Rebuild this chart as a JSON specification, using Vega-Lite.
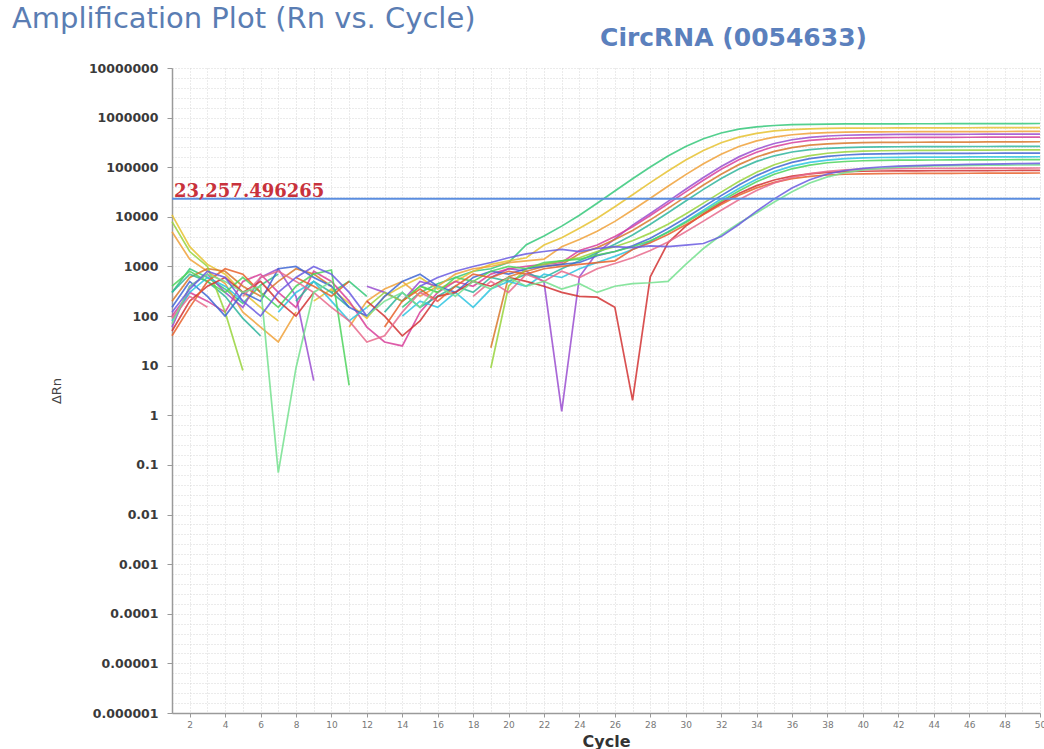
{
"$schema": "https://vega.github.io/schema/vega-lite/v6.json",
"width": 868, "height": 645,
"autosize": {"type": "none"},
"padding": {"left": 172, "top": 68, "right": 4, "bottom": 36},
"background": "white",
"title": {"text": "Amplification Plot (Rn vs. Cycle)", "anchor": "start", "frame": "group", "dx": -160, "dy": 13, "offset": 4, "font": "DejaVu Sans", "fontSize": 29, "fontWeight": "normal", "color": "#5a7db3"},
"config": {"view": {"stroke": null}},
"resolve": {"axis": {"x": "independent"}},
"layer": [
{
"data": {"values": [
{"s":1,"c":1,"v":300},{"s":1,"c":2,"v":900},{"s":1,"c":3,"v":600},{"s":1,"c":4,"v":350},{"s":1,"c":5,"v":180},{"s":1,"c":6,"v":420},{"s":1,"c":7,"v":700},{"s":1,"c":8,"v":null},{"s":1,"c":10,"v":300},{"s":1,"c":11,"v":500},{"s":1,"c":12,"v":250},{"s":1,"c":13,"v":null},{"s":1,"c":14,"v":150},{"s":1,"c":15,"v":300},{"s":1,"c":16,"v":450},{"s":1,"c":17,"v":600},{"s":1,"c":18,"v":800},{"s":1,"c":19,"v":900},{"s":1,"c":20,"v":1200},{"s":1,"c":21,"v":2750},{"s":1,"c":22,"v":4100},{"s":1,"c":23,"v":6500},{"s":1,"c":24,"v":10800},{"s":1,"c":25,"v":18750},{"s":1,"c":26,"v":33200},{"s":1,"c":27,"v":58500},{"s":1,"c":28,"v":101000},{"s":1,"c":29,"v":168000},{"s":1,"c":30,"v":263000},{"s":1,"c":31,"v":376000},{"s":1,"c":32,"v":489000},{"s":1,"c":33,"v":584000},{"s":1,"c":34,"v":651000},{"s":1,"c":35,"v":694000},{"s":1,"c":36,"v":719000},{"s":1,"c":37,"v":733000},{"s":1,"c":38,"v":741000},{"s":1,"c":39,"v":745000},{"s":1,"c":40,"v":747000},{"s":1,"c":41,"v":749000},{"s":1,"c":42,"v":750000},{"s":1,"c":43,"v":752000},{"s":1,"c":44,"v":753000},{"s":1,"c":45,"v":755000},{"s":1,"c":46,"v":756000},{"s":1,"c":47,"v":757000},{"s":1,"c":48,"v":758000},{"s":1,"c":49,"v":760000},{"s":1,"c":50,"v":761000},
{"s":2,"c":1,"v":11000},{"s":2,"c":2,"v":2500},{"s":2,"c":3,"v":1100},{"s":2,"c":4,"v":700},{"s":2,"c":5,"v":300},{"s":2,"c":6,"v":150},{"s":2,"c":7,"v":80},{"s":2,"c":8,"v":null},{"s":2,"c":9,"v":200},{"s":2,"c":10,"v":350},{"s":2,"c":11,"v":180},{"s":2,"c":12,"v":90},{"s":2,"c":13,"v":250},{"s":2,"c":14,"v":400},{"s":2,"c":15,"v":600},{"s":2,"c":16,"v":350},{"s":2,"c":17,"v":500},{"s":2,"c":18,"v":800},{"s":2,"c":19,"v":1100},{"s":2,"c":20,"v":1300},{"s":2,"c":21,"v":1500},{"s":2,"c":22,"v":2700},{"s":2,"c":23,"v":3800},{"s":2,"c":24,"v":5900},{"s":2,"c":25,"v":9400},{"s":2,"c":26,"v":16000},{"s":2,"c":27,"v":27900},{"s":2,"c":28,"v":48900},{"s":2,"c":29,"v":84000},{"s":2,"c":30,"v":140000},{"s":2,"c":31,"v":218000},{"s":2,"c":32,"v":312000},{"s":2,"c":33,"v":405000},{"s":2,"c":34,"v":483000},{"s":2,"c":35,"v":539000},{"s":2,"c":36,"v":574000},{"s":2,"c":37,"v":595000},{"s":2,"c":38,"v":607000},{"s":2,"c":39,"v":613000},{"s":2,"c":40,"v":616000},{"s":2,"c":41,"v":618000},{"s":2,"c":42,"v":620000},{"s":2,"c":43,"v":621000},{"s":2,"c":44,"v":622000},{"s":2,"c":45,"v":624000},{"s":2,"c":46,"v":625000},{"s":2,"c":47,"v":626000},{"s":2,"c":48,"v":627000},{"s":2,"c":49,"v":628000},{"s":2,"c":50,"v":630000},
{"s":3,"c":1,"v":5000},{"s":3,"c":2,"v":1400},{"s":3,"c":3,"v":800},{"s":3,"c":4,"v":450},{"s":3,"c":5,"v":120},{"s":3,"c":6,"v":60},{"s":3,"c":7,"v":30},{"s":3,"c":8,"v":120},{"s":3,"c":9,"v":null},{"s":3,"c":11,"v":60},{"s":3,"c":12,"v":200},{"s":3,"c":13,"v":350},{"s":3,"c":14,"v":500},{"s":3,"c":15,"v":250},{"s":3,"c":16,"v":400},{"s":3,"c":17,"v":700},{"s":3,"c":18,"v":900},{"s":3,"c":19,"v":1000},{"s":3,"c":20,"v":1200},{"s":3,"c":21,"v":1300},{"s":3,"c":22,"v":1400},{"s":3,"c":23,"v":2500},{"s":3,"c":24,"v":3500},{"s":3,"c":25,"v":5100},{"s":3,"c":26,"v":8100},{"s":3,"c":27,"v":13700},{"s":3,"c":28,"v":23700},{"s":3,"c":29,"v":41300},{"s":3,"c":30,"v":71000},{"s":3,"c":31,"v":118000},{"s":3,"c":32,"v":183000},{"s":3,"c":33,"v":262000},{"s":3,"c":34,"v":340000},{"s":3,"c":35,"v":405000},{"s":3,"c":36,"v":452000},{"s":3,"c":37,"v":481000},{"s":3,"c":38,"v":499000},{"s":3,"c":39,"v":509000},{"s":3,"c":40,"v":514000},{"s":3,"c":41,"v":517000},{"s":3,"c":42,"v":519000},{"s":3,"c":43,"v":520000},{"s":3,"c":44,"v":521000},{"s":3,"c":45,"v":522000},{"s":3,"c":46,"v":523000},{"s":3,"c":47,"v":524000},{"s":3,"c":48,"v":525000},{"s":3,"c":49,"v":526000},{"s":3,"c":50,"v":528000},
{"s":4,"c":1,"v":60},{"s":4,"c":2,"v":400},{"s":4,"c":3,"v":700},{"s":4,"c":4,"v":300},{"s":4,"c":5,"v":150},{"s":4,"c":6,"v":600},{"s":4,"c":7,"v":900},{"s":4,"c":8,"v":250},{"s":4,"c":9,"v":5},{"s":4,"c":10,"v":null},{"s":4,"c":12,"v":400},{"s":4,"c":13,"v":300},{"s":4,"c":14,"v":200},{"s":4,"c":15,"v":500},{"s":4,"c":16,"v":400},{"s":4,"c":17,"v":null},{"s":4,"c":19,"v":600},{"s":4,"c":20,"v":900},{"s":4,"c":21,"v":800},{"s":4,"c":22,"v":490},{"s":4,"c":23,"v":1.2},{"s":4,"c":24,"v":620},{"s":4,"c":25,"v":1900},{"s":4,"c":26,"v":3600},{"s":4,"c":27,"v":6800},{"s":4,"c":28,"v":11700},{"s":4,"c":29,"v":20500},{"s":4,"c":30,"v":36000},{"s":4,"c":31,"v":62300},{"s":4,"c":32,"v":103700},{"s":4,"c":33,"v":161600},{"s":4,"c":34,"v":231000},{"s":4,"c":35,"v":300500},{"s":4,"c":36,"v":358400},{"s":4,"c":37,"v":399800},{"s":4,"c":38,"v":426000},{"s":4,"c":39,"v":441600},{"s":4,"c":40,"v":450400},{"s":4,"c":41,"v":455400},{"s":4,"c":42,"v":457700},{"s":4,"c":43,"v":459000},{"s":4,"c":44,"v":460000},{"s":4,"c":45,"v":461000},{"s":4,"c":46,"v":462000},{"s":4,"c":47,"v":463000},{"s":4,"c":48,"v":464000},{"s":4,"c":49,"v":465000},{"s":4,"c":50,"v":466000},
{"s":5,"c":1,"v":100},{"s":5,"c":2,"v":300},{"s":5,"c":3,"v":200},{"s":5,"c":4,"v":120},{"s":5,"c":5,"v":500},{"s":5,"c":6,"v":700},{"s":5,"c":7,"v":300},{"s":5,"c":8,"v":150},{"s":5,"c":9,"v":800},{"s":5,"c":10,"v":500},{"s":5,"c":11,"v":200},{"s":5,"c":12,"v":60},{"s":5,"c":13,"v":30},{"s":5,"c":14,"v":25},{"s":5,"c":15,"v":120},{"s":5,"c":16,"v":300},{"s":5,"c":17,"v":500},{"s":5,"c":18,"v":400},{"s":5,"c":19,"v":700},{"s":5,"c":20,"v":900},{"s":5,"c":21,"v":1000},{"s":5,"c":22,"v":1100},{"s":5,"c":23,"v":1200},{"s":5,"c":24,"v":2100},{"s":5,"c":25,"v":2700},{"s":5,"c":26,"v":4000},{"s":5,"c":27,"v":6300},{"s":5,"c":28,"v":10600},{"s":5,"c":29,"v":18300},{"s":5,"c":30,"v":31800},{"s":5,"c":31,"v":54600},{"s":5,"c":32,"v":90600},{"s":5,"c":33,"v":141000},{"s":5,"c":34,"v":201000},{"s":5,"c":35,"v":261000},{"s":5,"c":36,"v":311500},{"s":5,"c":37,"v":347500},{"s":5,"c":38,"v":370000},{"s":5,"c":39,"v":383600},{"s":5,"c":40,"v":391000},{"s":5,"c":41,"v":395500},{"s":5,"c":42,"v":397500},{"s":5,"c":43,"v":399000},{"s":5,"c":44,"v":400000},{"s":5,"c":45,"v":401000},{"s":5,"c":46,"v":402000},{"s":5,"c":47,"v":403000},{"s":5,"c":48,"v":404000},{"s":5,"c":49,"v":405000},{"s":5,"c":50,"v":406000},
{"s":6,"c":1,"v":200},{"s":6,"c":2,"v":600},{"s":6,"c":3,"v":900},{"s":6,"c":4,"v":800},{"s":6,"c":5,"v":400},{"s":6,"c":6,"v":250},{"s":6,"c":7,"v":500},{"s":6,"c":8,"v":900},{"s":6,"c":9,"v":700},{"s":6,"c":10,"v":400},{"s":6,"c":11,"v":null},{"s":6,"c":19,"v":23},{"s":6,"c":20,"v":620},{"s":6,"c":21,"v":800},{"s":6,"c":22,"v":1000},{"s":6,"c":23,"v":1100},{"s":6,"c":24,"v":1800},{"s":6,"c":25,"v":2400},{"s":6,"c":26,"v":3500},{"s":6,"c":27,"v":5300},{"s":6,"c":28,"v":8700},{"s":6,"c":29,"v":14800},{"s":6,"c":30,"v":25600},{"s":6,"c":31,"v":43800},{"s":6,"c":32,"v":72500},{"s":6,"c":33,"v":112800},{"s":6,"c":34,"v":161000},{"s":6,"c":35,"v":209000},{"s":6,"c":36,"v":249300},{"s":6,"c":37,"v":278000},{"s":6,"c":38,"v":296000},{"s":6,"c":39,"v":307000},{"s":6,"c":40,"v":313000},{"s":6,"c":41,"v":316500},{"s":6,"c":42,"v":318000},{"s":6,"c":43,"v":319000},{"s":6,"c":44,"v":320000},{"s":6,"c":45,"v":321000},{"s":6,"c":46,"v":322000},{"s":6,"c":47,"v":323000},{"s":6,"c":48,"v":324000},{"s":6,"c":49,"v":325000},{"s":6,"c":50,"v":326000},
{"s":7,"c":1,"v":300},{"s":7,"c":2,"v":700},{"s":7,"c":3,"v":500},{"s":7,"c":4,"v":250},{"s":7,"c":5,"v":90},{"s":7,"c":6,"v":40},{"s":7,"c":7,"v":null},{"s":7,"c":8,"v":200},{"s":7,"c":9,"v":500},{"s":7,"c":10,"v":300},{"s":7,"c":11,"v":150},{"s":7,"c":12,"v":null},{"s":7,"c":13,"v":120},{"s":7,"c":14,"v":300},{"s":7,"c":15,"v":150},{"s":7,"c":16,"v":250},{"s":7,"c":17,"v":400},{"s":7,"c":18,"v":300},{"s":7,"c":19,"v":600},{"s":7,"c":20,"v":500},{"s":7,"c":21,"v":700},{"s":7,"c":22,"v":600},{"s":7,"c":23,"v":900},{"s":7,"c":24,"v":1300},{"s":7,"c":25,"v":1900},{"s":7,"c":26,"v":2800},{"s":7,"c":27,"v":4300},{"s":7,"c":28,"v":7100},{"s":7,"c":29,"v":12100},{"s":7,"c":30,"v":20900},{"s":7,"c":31,"v":35800},{"s":7,"c":32,"v":59200},{"s":7,"c":33,"v":92000},{"s":7,"c":34,"v":131000},{"s":7,"c":35,"v":170000},{"s":7,"c":36,"v":203000},{"s":7,"c":37,"v":226000},{"s":7,"c":38,"v":241000},{"s":7,"c":39,"v":249500},{"s":7,"c":40,"v":254500},{"s":7,"c":41,"v":257000},{"s":7,"c":42,"v":258500},{"s":7,"c":43,"v":259500},{"s":7,"c":44,"v":260000},{"s":7,"c":45,"v":261000},{"s":7,"c":46,"v":261500},{"s":7,"c":47,"v":262000},{"s":7,"c":48,"v":263000},{"s":7,"c":49,"v":263500},{"s":7,"c":50,"v":264000},
{"s":8,"c":1,"v":8000},{"s":8,"c":2,"v":2000},{"s":8,"c":3,"v":1000},{"s":8,"c":4,"v":120},{"s":8,"c":5,"v":8},{"s":8,"c":6,"v":null},{"s":8,"c":12,"v":150},{"s":8,"c":13,"v":300},{"s":8,"c":14,"v":200},{"s":8,"c":15,"v":400},{"s":8,"c":16,"v":300},{"s":8,"c":17,"v":null},{"s":8,"c":19,"v":9},{"s":8,"c":20,"v":400},{"s":8,"c":21,"v":900},{"s":8,"c":22,"v":1100},{"s":8,"c":23,"v":1300},{"s":8,"c":24,"v":1500},{"s":8,"c":25,"v":2000},{"s":8,"c":26,"v":2500},{"s":8,"c":27,"v":3300},{"s":8,"c":28,"v":4700},{"s":8,"c":29,"v":7100},{"s":8,"c":30,"v":11400},{"s":8,"c":31,"v":18900},{"s":8,"c":32,"v":31500},{"s":8,"c":33,"v":51300},{"s":8,"c":34,"v":79000},{"s":8,"c":35,"v":112000},{"s":8,"c":36,"v":145000},{"s":8,"c":37,"v":172000},{"s":8,"c":38,"v":191500},{"s":8,"c":39,"v":204000},{"s":8,"c":40,"v":211000},{"s":8,"c":41,"v":215000},{"s":8,"c":42,"v":217500},{"s":8,"c":43,"v":218500},{"s":8,"c":44,"v":219500},{"s":8,"c":45,"v":220500},{"s":8,"c":46,"v":221000},{"s":8,"c":47,"v":222000},{"s":8,"c":48,"v":222500},{"s":8,"c":49,"v":223000},{"s":8,"c":50,"v":224000},
{"s":9,"c":1,"v":150},{"s":9,"c":2,"v":500},{"s":9,"c":3,"v":250},{"s":9,"c":4,"v":100},{"s":9,"c":5,"v":300},{"s":9,"c":6,"v":200},{"s":9,"c":7,"v":900},{"s":9,"c":8,"v":1000},{"s":9,"c":9,"v":600},{"s":9,"c":10,"v":400},{"s":9,"c":11,"v":150},{"s":9,"c":12,"v":100},{"s":9,"c":13,"v":250},{"s":9,"c":14,"v":500},{"s":9,"c":15,"v":700},{"s":9,"c":16,"v":400},{"s":9,"c":17,"v":300},{"s":9,"c":18,"v":600},{"s":9,"c":19,"v":800},{"s":9,"c":20,"v":700},{"s":9,"c":21,"v":900},{"s":9,"c":22,"v":1000},{"s":9,"c":23,"v":1100},{"s":9,"c":24,"v":1200},{"s":9,"c":25,"v":1650},{"s":9,"c":26,"v":2000},{"s":9,"c":27,"v":2600},{"s":9,"c":28,"v":3700},{"s":9,"c":29,"v":5800},{"s":9,"c":30,"v":9500},{"s":9,"c":31,"v":16000},{"s":9,"c":32,"v":26800},{"s":9,"c":33,"v":43900},{"s":9,"c":34,"v":67800},{"s":9,"c":35,"v":96500},{"s":9,"c":36,"v":125000},{"s":9,"c":37,"v":149000},{"s":9,"c":38,"v":166000},{"s":9,"c":39,"v":176500},{"s":9,"c":40,"v":183000},{"s":9,"c":41,"v":186500},{"s":9,"c":42,"v":188500},{"s":9,"c":43,"v":189500},{"s":9,"c":44,"v":190000},{"s":9,"c":45,"v":190500},{"s":9,"c":46,"v":191000},{"s":9,"c":47,"v":191500},{"s":9,"c":48,"v":192000},{"s":9,"c":49,"v":192500},{"s":9,"c":50,"v":193000},
{"s":10,"c":1,"v":80},{"s":10,"c":2,"v":300},{"s":10,"c":3,"v":600},{"s":10,"c":4,"v":400},{"s":10,"c":5,"v":200},{"s":10,"c":6,"v":null},{"s":10,"c":7,"v":120},{"s":10,"c":8,"v":300},{"s":10,"c":9,"v":500},{"s":10,"c":10,"v":200},{"s":10,"c":11,"v":80},{"s":10,"c":12,"v":150},{"s":10,"c":13,"v":null},{"s":10,"c":14,"v":100},{"s":10,"c":15,"v":200},{"s":10,"c":16,"v":150},{"s":10,"c":17,"v":300},{"s":10,"c":18,"v":150},{"s":10,"c":19,"v":350},{"s":10,"c":20,"v":500},{"s":10,"c":21,"v":400},{"s":10,"c":22,"v":700},{"s":10,"c":23,"v":600},{"s":10,"c":24,"v":900},{"s":10,"c":25,"v":1200},{"s":10,"c":26,"v":1600},{"s":10,"c":27,"v":2200},{"s":10,"c":28,"v":3200},{"s":10,"c":29,"v":5000},{"s":10,"c":30,"v":8100},{"s":10,"c":31,"v":13600},{"s":10,"c":32,"v":22800},{"s":10,"c":33,"v":37200},{"s":10,"c":34,"v":57400},{"s":10,"c":35,"v":81500},{"s":10,"c":36,"v":105500},{"s":10,"c":37,"v":125500},{"s":10,"c":38,"v":139500},{"s":10,"c":39,"v":148500},{"s":10,"c":40,"v":154000},{"s":10,"c":41,"v":157000},{"s":10,"c":42,"v":158500},{"s":10,"c":43,"v":159300},{"s":10,"c":44,"v":160000},{"s":10,"c":45,"v":160500},{"s":10,"c":46,"v":161000},{"s":10,"c":47,"v":161500},{"s":10,"c":48,"v":162000},{"s":10,"c":49,"v":162300},{"s":10,"c":50,"v":162500},
{"s":11,"c":1,"v":400},{"s":11,"c":2,"v":800},{"s":11,"c":3,"v":500},{"s":11,"c":4,"v":300},{"s":11,"c":5,"v":600},{"s":11,"c":6,"v":300},{"s":11,"c":7,"v":150},{"s":11,"c":8,"v":400},{"s":11,"c":9,"v":700},{"s":11,"c":10,"v":850},{"s":11,"c":11,"v":4},{"s":11,"c":12,"v":null},{"s":11,"c":14,"v":200},{"s":11,"c":15,"v":400},{"s":11,"c":16,"v":300},{"s":11,"c":17,"v":600},{"s":11,"c":18,"v":500},{"s":11,"c":19,"v":800},{"s":11,"c":20,"v":1000},{"s":11,"c":21,"v":900},{"s":11,"c":22,"v":1200},{"s":11,"c":23,"v":1300},{"s":11,"c":24,"v":1400},{"s":11,"c":25,"v":1700},{"s":11,"c":26,"v":2000},{"s":11,"c":27,"v":2500},{"s":11,"c":28,"v":3300},{"s":11,"c":29,"v":4900},{"s":11,"c":30,"v":7700},{"s":11,"c":31,"v":12500},{"s":11,"c":32,"v":20600},{"s":11,"c":33,"v":33200},{"s":11,"c":34,"v":50900},{"s":11,"c":35,"v":72000},{"s":11,"c":36,"v":93000},{"s":11,"c":37,"v":110500},{"s":11,"c":38,"v":123000},{"s":11,"c":39,"v":130500},{"s":11,"c":40,"v":135000},{"s":11,"c":41,"v":137500},{"s":11,"c":42,"v":139000},{"s":11,"c":43,"v":139700},{"s":11,"c":44,"v":140000},{"s":11,"c":45,"v":140500},{"s":11,"c":46,"v":141000},{"s":11,"c":47,"v":141300},{"s":11,"c":48,"v":141600},{"s":11,"c":49,"v":141800},{"s":11,"c":50,"v":142000},
{"s":12,"c":1,"v":50},{"s":12,"c":2,"v":200},{"s":12,"c":3,"v":400},{"s":12,"c":4,"v":600},{"s":12,"c":5,"v":300},{"s":12,"c":6,"v":500},{"s":12,"c":7,"v":200},{"s":12,"c":8,"v":100},{"s":12,"c":9,"v":300},{"s":12,"c":10,"v":null},{"s":12,"c":12,"v":200},{"s":12,"c":13,"v":100},{"s":12,"c":14,"v":40},{"s":12,"c":15,"v":80},{"s":12,"c":16,"v":250},{"s":12,"c":17,"v":300},{"s":12,"c":18,"v":500},{"s":12,"c":19,"v":400},{"s":12,"c":20,"v":600},{"s":12,"c":21,"v":500},{"s":12,"c":22,"v":400},{"s":12,"c":23,"v":300},{"s":12,"c":24,"v":250},{"s":12,"c":25,"v":240},{"s":12,"c":26,"v":150},{"s":12,"c":27,"v":2},{"s":12,"c":28,"v":620},{"s":12,"c":29,"v":3000},{"s":12,"c":30,"v":6500},{"s":12,"c":31,"v":11400},{"s":12,"c":32,"v":19000},{"s":12,"c":33,"v":29700},{"s":12,"c":34,"v":42500},{"s":12,"c":35,"v":55300},{"s":12,"c":36,"v":66000},{"s":12,"c":37,"v":73700},{"s":12,"c":38,"v":78500},{"s":12,"c":39,"v":81400},{"s":12,"c":40,"v":83000},{"s":12,"c":41,"v":84000},{"s":12,"c":42,"v":84400},{"s":12,"c":43,"v":84700},{"s":12,"c":44,"v":85000},{"s":12,"c":45,"v":85300},{"s":12,"c":46,"v":85600},{"s":12,"c":47,"v":85800},{"s":12,"c":48,"v":86000},{"s":12,"c":49,"v":86300},{"s":12,"c":50,"v":86500},
{"s":13,"c":1,"v":40},{"s":13,"c":2,"v":150},{"s":13,"c":3,"v":500},{"s":13,"c":4,"v":900},{"s":13,"c":5,"v":700},{"s":13,"c":6,"v":300},{"s":13,"c":7,"v":null},{"s":13,"c":8,"v":600},{"s":13,"c":9,"v":400},{"s":13,"c":10,"v":250},{"s":13,"c":11,"v":500},{"s":13,"c":12,"v":null},{"s":13,"c":13,"v":60},{"s":13,"c":14,"v":200},{"s":13,"c":15,"v":350},{"s":13,"c":16,"v":200},{"s":13,"c":17,"v":400},{"s":13,"c":18,"v":700},{"s":13,"c":19,"v":600},{"s":13,"c":20,"v":800},{"s":13,"c":21,"v":700},{"s":13,"c":22,"v":900},{"s":13,"c":23,"v":1000},{"s":13,"c":24,"v":1100},{"s":13,"c":25,"v":1200},{"s":13,"c":26,"v":1300},{"s":13,"c":27,"v":2200},{"s":13,"c":28,"v":3000},{"s":13,"c":29,"v":4400},{"s":13,"c":30,"v":6900},{"s":13,"c":31,"v":11100},{"s":13,"c":32,"v":17800},{"s":13,"c":33,"v":27200},{"s":13,"c":34,"v":38400},{"s":13,"c":35,"v":49600},{"s":13,"c":36,"v":59000},{"s":13,"c":37,"v":65600},{"s":13,"c":38,"v":69800},{"s":13,"c":39,"v":72200},{"s":13,"c":40,"v":73500},{"s":13,"c":41,"v":74300},{"s":13,"c":42,"v":74700},{"s":13,"c":43,"v":75000},{"s":13,"c":44,"v":75300},{"s":13,"c":45,"v":75500},{"s":13,"c":46,"v":75700},{"s":13,"c":47,"v":75900},{"s":13,"c":48,"v":76100},{"s":13,"c":49,"v":76300},{"s":13,"c":50,"v":76500},
{"s":14,"c":1,"v":90},{"s":14,"c":2,"v":250},{"s":14,"c":3,"v":150},{"s":14,"c":4,"v":null},{"s":14,"c":5,"v":250},{"s":14,"c":6,"v":600},{"s":14,"c":7,"v":800},{"s":14,"c":8,"v":500},{"s":14,"c":9,"v":300},{"s":14,"c":10,"v":150},{"s":14,"c":11,"v":80},{"s":14,"c":12,"v":30},{"s":14,"c":13,"v":40},{"s":14,"c":14,"v":120},{"s":14,"c":15,"v":300},{"s":14,"c":16,"v":200},{"s":14,"c":17,"v":null},{"s":14,"c":18,"v":250},{"s":14,"c":19,"v":500},{"s":14,"c":20,"v":300},{"s":14,"c":21,"v":700},{"s":14,"c":22,"v":500},{"s":14,"c":23,"v":800},{"s":14,"c":24,"v":600},{"s":14,"c":25,"v":900},{"s":14,"c":26,"v":1150},{"s":14,"c":27,"v":1500},{"s":14,"c":28,"v":2100},{"s":14,"c":29,"v":3100},{"s":14,"c":30,"v":5000},{"s":14,"c":31,"v":8200},{"s":14,"c":32,"v":13600},{"s":14,"c":33,"v":22100},{"s":14,"c":34,"v":34000},{"s":14,"c":35,"v":48300},{"s":14,"c":36,"v":62500},{"s":14,"c":37,"v":74400},{"s":14,"c":38,"v":82800},{"s":14,"c":39,"v":88100},{"s":14,"c":40,"v":91300},{"s":14,"c":41,"v":93000},{"s":14,"c":42,"v":94000},{"s":14,"c":43,"v":94500},{"s":14,"c":44,"v":95000},{"s":14,"c":45,"v":95300},{"s":14,"c":46,"v":95600},{"s":14,"c":47,"v":95900},{"s":14,"c":48,"v":96100},{"s":14,"c":49,"v":96300},{"s":14,"c":50,"v":96500},
{"s":15,"c":1,"v":70},{"s":15,"c":2,"v":400},{"s":15,"c":3,"v":700},{"s":15,"c":4,"v":500},{"s":15,"c":5,"v":300},{"s":15,"c":6,"v":400},{"s":15,"c":7,"v":0.07},{"s":15,"c":8,"v":9},{"s":15,"c":9,"v":300},{"s":15,"c":10,"v":500},{"s":15,"c":11,"v":null},{"s":15,"c":12,"v":100},{"s":15,"c":13,"v":200},{"s":15,"c":14,"v":300},{"s":15,"c":15,"v":150},{"s":15,"c":16,"v":400},{"s":15,"c":17,"v":250},{"s":15,"c":18,"v":500},{"s":15,"c":19,"v":350},{"s":15,"c":20,"v":600},{"s":15,"c":21,"v":400},{"s":15,"c":22,"v":500},{"s":15,"c":23,"v":350},{"s":15,"c":24,"v":450},{"s":15,"c":25,"v":300},{"s":15,"c":26,"v":400},{"s":15,"c":27,"v":450},{"s":15,"c":28,"v":470},{"s":15,"c":29,"v":500},{"s":15,"c":30,"v":1100},{"s":15,"c":31,"v":2300},{"s":15,"c":32,"v":4300},{"s":15,"c":33,"v":7400},{"s":15,"c":34,"v":12000},{"s":15,"c":35,"v":20000},{"s":15,"c":36,"v":32000},{"s":15,"c":37,"v":48000},{"s":15,"c":38,"v":64000},{"s":15,"c":39,"v":78000},{"s":15,"c":40,"v":88000},{"s":15,"c":41,"v":95000},{"s":15,"c":42,"v":100000},{"s":15,"c":43,"v":104000},{"s":15,"c":44,"v":106500},{"s":15,"c":45,"v":108000},{"s":15,"c":46,"v":109200},{"s":15,"c":47,"v":110000},{"s":15,"c":48,"v":110600},{"s":15,"c":49,"v":111000},{"s":15,"c":50,"v":111400},
{"s":16,"c":1,"v":120},{"s":16,"c":2,"v":350},{"s":16,"c":3,"v":800},{"s":16,"c":4,"v":600},{"s":16,"c":5,"v":200},{"s":16,"c":6,"v":100},{"s":16,"c":7,"v":300},{"s":16,"c":8,"v":600},{"s":16,"c":9,"v":1000},{"s":16,"c":10,"v":700},{"s":16,"c":11,"v":300},{"s":16,"c":12,"v":100},{"s":16,"c":13,"v":null},{"s":16,"c":15,"v":400},{"s":16,"c":16,"v":600},{"s":16,"c":17,"v":800},{"s":16,"c":18,"v":1000},{"s":16,"c":19,"v":1200},{"s":16,"c":20,"v":1500},{"s":16,"c":21,"v":1800},{"s":16,"c":22,"v":2000},{"s":16,"c":23,"v":2200},{"s":16,"c":24,"v":2000},{"s":16,"c":25,"v":2300},{"s":16,"c":26,"v":2500},{"s":16,"c":27,"v":2400},{"s":16,"c":28,"v":2600},{"s":16,"c":29,"v":2500},{"s":16,"c":30,"v":2700},{"s":16,"c":31,"v":2900},{"s":16,"c":32,"v":4000},{"s":16,"c":33,"v":7000},{"s":16,"c":34,"v":13000},{"s":16,"c":35,"v":23000},{"s":16,"c":36,"v":38000},{"s":16,"c":37,"v":56000},{"s":16,"c":38,"v":73000},{"s":16,"c":39,"v":86000},{"s":16,"c":40,"v":95000},{"s":16,"c":41,"v":101000},{"s":16,"c":42,"v":105000},{"s":16,"c":43,"v":108000},{"s":16,"c":44,"v":110000},{"s":16,"c":45,"v":112000},{"s":16,"c":46,"v":114000},{"s":16,"c":47,"v":115500},{"s":16,"c":48,"v":117000},{"s":16,"c":49,"v":118500},{"s":16,"c":50,"v":120000}
]},
"mark": {"type": "line", "strokeWidth": 1.7, "opacity": 0.85, "invalid": "break-paths-show-domains"},
"encoding": {
"x": {"field": "c", "type": "quantitative", "scale": {"domain": [1, 50], "nice": false, "zero": false},
 "axis": {"orient": "bottom", "title": "Cycle", "values": [1,2,3,4,5,6,7,8,9,10,11,12,13,14,15,16,17,18,19,20,21,22,23,24,25,26,27,28,29,30,31,32,33,34,35,36,37,38,39,40,41,42,43,44,45,46,47,48,49,50],
 "labelExpr": "datum.value % 2 == 0 ? datum.label : ''", "labelFlush": false, "labelOverlap": false,
 "labelFont": "DejaVu Sans", "labelFontSize": 9, "labelColor": "#777777", "labelPadding": 3,
 "tickSize": 4, "tickColor": "#999999", "tickOpacity": {"condition": {"test": "datum.value % 2 == 0", "value": 1}, "value": 0},
 "domainColor": "#9a9a9a", "domainWidth": 1.5,
 "grid": true, "gridColor": "#d4d4d4", "gridDash": [1, 2], "gridOpacity": 0.9,
 "titleFont": "DejaVu Sans", "titleFontSize": 16, "titleFontWeight": "bold", "titleColor": "#333333", "titlePadding": 4}},
"y": {"field": "v", "type": "quantitative", "scale": {"type": "log", "domain": [1e-6, 1e7], "nice": false},
 "axis": {"title": "ΔRn", "titleFont": "DejaVu Sans", "titleFontSize": 13, "titleFontWeight": "normal", "titleColor": "#444444", "titlePadding": 25,
 "values": [1e-6,1.585e-6,2.512e-6,3.981e-6,6.31e-6,1e-5,1.585e-5,2.512e-5,3.981e-5,6.31e-5,1e-4,1.585e-4,2.512e-4,3.981e-4,6.31e-4,0.001,0.001585,0.002512,0.003981,0.00631,0.01,0.01585,0.02512,0.03981,0.0631,0.1,0.1585,0.2512,0.3981,0.631,1,1.585,2.512,3.981,6.31,10,15.85,25.12,39.81,63.1,100,158.5,251.2,398.1,631,1000,1585,2512,3981,6310,10000,15850,25120,39810,63100,100000,158500,251200,398100,631000,1000000,1585000,2512000,3981000,6310000,10000000],
 "labelExpr": "abs(log(datum.value)/LN10 - round(log(datum.value)/LN10)) < 0.001 ? format(datum.value, '.6~f') : ''",
 "labelOverlap": false, "labelBound": false, "labelFlush": false,
 "labelFont": "DejaVu Sans", "labelFontSize": 12.5, "labelFontWeight": "bold", "labelColor": "#3a3a3a", "labelPadding": 9,
 "tickSize": 5, "tickColor": "#999999", "tickOpacity": {"condition": {"test": "abs(log(datum.value)/LN10 - round(log(datum.value)/LN10)) < 0.001", "value": 1}, "value": 0},
 "domainColor": "#9a9a9a", "domainWidth": 1.5,
 "grid": true, "gridColor": "#d4d4d4", "gridDash": [1, 2], "gridOpacity": 0.9}},
"color": {"field": "s", "type": "nominal", "legend": null,
 "scale": {"domain": [1,2,3,4,5,6,7,8,9,10,11,12,13,14,15,16], "range": ["#35c87a","#e6c230","#f0a13a","#9a4ed0","#d8409a","#d8782c","#2fb59c","#98d43c","#3f66d4","#2ec4e0","#4cd45c","#d23232","#e8602a","#e86a8c","#74e08e","#6a5ae0"]}}
}
},
{
"data": {"values": [{}]},
"mark": {"type": "rule", "color": "#5b8ee0", "strokeWidth": 2},
"encoding": {
"x": {"datum": 1, "type": "quantitative", "axis": {"orient": "top", "domain": false, "ticks": false, "labels": false, "grid": false, "title": "CircRNA (0054633)", "titleFont": "DejaVu Sans", "titleFontWeight": "bold", "titleFontSize": 25, "titleColor": "#5b80bd", "titleX": 561, "titleY": -23, "titleAlign": "center", "titleBaseline": "alphabetic", "titleAngle": 0}},
"x2": {"datum": 50},
"y": {"datum": 23257.496265, "type": "quantitative"}
}
},
{
"data": {"values": [{}]},
"mark": {"type": "text", "text": "23,257.496265", "align": "left", "baseline": "alphabetic", "dx": 2, "dy": -2, "font": "DejaVu Serif", "fontWeight": "bold", "fontSize": 18, "color": "#c8323c"},
"encoding": {
"x": {"datum": 1, "type": "quantitative", "axis": null},
"y": {"datum": 23257.496265, "type": "quantitative"}
}
}
]
}
